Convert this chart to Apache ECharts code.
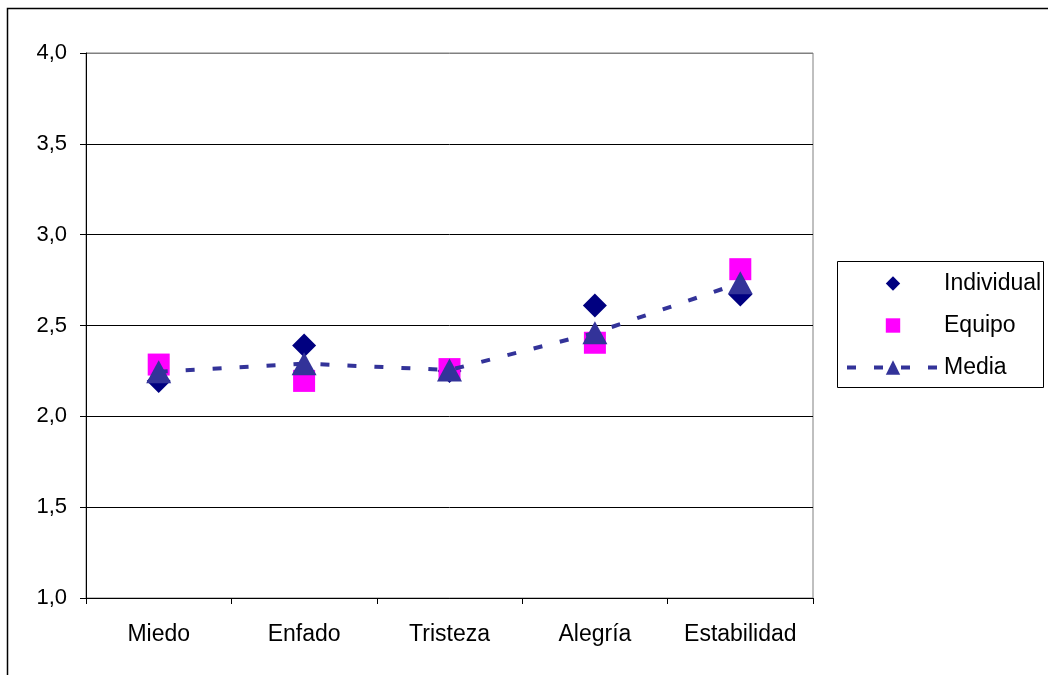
<!DOCTYPE html>
<html>
<head>
<meta charset="utf-8">
<script src="https://cdn.jsdelivr.net/npm/echarts@6/dist/echarts.min.js"></script>
<style>
  html, body { margin: 0; padding: 0; background: #fff; }
  #chart { width: 1048px; height: 675px; }
</style>
</head>
<body>
<div id="chart"></div>
<script>
// Categories and the three series of mean scores
const categories = ['Miedo', 'Enfado', 'Tristeza', 'Alegría', 'Estabilidad'];
const individual = [2.195, 2.39, 2.25, 2.61, 2.67];
const equipo     = [2.285, 2.195, 2.26, 2.405, 2.81];
const media      = [2.245, 2.29, 2.255, 2.46, 2.735];
const seriesNames = ['Individual', 'Equipo', 'Media'];

const FONT = '"Liberation Sans", Arial, sans-serif';
const chart = echarts.init(document.getElementById('chart'), null, { renderer: 'canvas' });

chart.setOption({
  backgroundColor: '#ffffff',
  animation: false,
  textStyle: { fontFamily: FONT },
  grid: {
    left: 86, right: 235, top: 53, bottom: 77,
    show: true, borderColor: '#808080', borderWidth: 1, backgroundColor: 'transparent'
  },
  graphic: [
    // outer chart frame
    { type: 'rect', silent: true, z: 0,
      shape: { x: 7.5, y: 8.5, width: 1060, height: 700 },
      style: { fill: 'none', stroke: '#000', lineWidth: 1.5 } },
    // legend frame
    { type: 'rect', silent: true, z: 1,
      shape: { x: 837.5, y: 261.5, width: 206, height: 126 },
      style: { fill: '#fff', stroke: '#000', lineWidth: 1 } }
  ],
  legend: {
    orient: 'vertical',
    left: 840, top: 267,
    itemWidth: 92, itemHeight: 18, itemGap: 19,
    data: [
      { name: seriesNames[0] },
      { name: seriesNames[1] },
      { name: seriesNames[2], lineStyle: { width: 4 } }
    ],
    textStyle: { fontFamily: FONT, fontSize: 23, color: '#000' },
    z: 5
  },
  xAxis: {
    type: 'category',
    data: categories,
    boundaryGap: true,
    axisLine: { lineStyle: { color: '#000', width: 1 } },
    axisTick: { show: true, interval: 0, alignWithLabel: false, length: 6, inside: false, lineStyle: { color: '#000' } },
    axisLabel: { interval: 0, fontFamily: FONT, fontSize: 23, color: '#000', margin: 25 },
    splitLine: { show: false }
  },
  yAxis: {
    type: 'value',
    min: 1, max: 4, interval: 0.5,
    axisLine: { show: true, lineStyle: { color: '#000', width: 1 } },
    axisTick: { show: true, length: 6, lineStyle: { color: '#000' } },
    axisLabel: {
      fontFamily: FONT, fontSize: 22, color: '#000', margin: 19,
      formatter: v => v.toFixed(1).replace('.', ',')
    },
    splitLine: { show: true, lineStyle: { color: ['#000', '#000', '#000', '#000', '#000', '#000', '#808080'], width: 1 } }
  },
  series: [
    {
      name: seriesNames[0], type: 'line', data: individual, z: 2,
      symbol: 'diamond', symbolSize: 24,
      itemStyle: { color: '#000080' },
      lineStyle: { width: 0, opacity: 0 }
    },
    {
      name: seriesNames[1], type: 'line', data: equipo, z: 3,
      symbol: 'rect', symbolSize: 22,
      itemStyle: { color: '#ff00ff' },
      lineStyle: { width: 0, opacity: 0 }
    },
    {
      name: seriesNames[2], type: 'line', data: media, z: 4,
      symbol: 'triangle', symbolSize: [25, 23],
      itemStyle: { color: '#333399' },
      lineStyle: { color: '#333399', width: 4, type: [9, 18] }
    }
  ]
});
</script>
</body>
</html>
